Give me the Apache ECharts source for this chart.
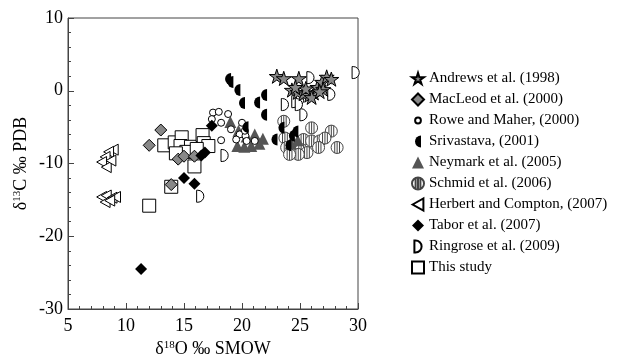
<!DOCTYPE html>
<html>
<head>
<meta charset="utf-8">
<script src="https://cdn.jsdelivr.net/npm/echarts@6/dist/echarts.min.js"></script>
<style>
  html, body { margin: 0; padding: 0; background: #fff; }
  #chart { width: 631px; height: 364px; }
</style>
</head>
<body>
<div id="chart"></div>
<script>
// δ18O (x) / δ13C (y) pairs
var andrews = [[23.0, 2.0], [23.6, 1.7], [24.9, 1.7], [24.3, 0.1], [24.8, -0.2], [25.3, -0.4],
    [25.8, -0.6], [26.2, -0.3], [26.5, 0.5], [26.9, 1.2], [27.3, 1.9], [27.7, 1.6], [27.0, 0.2],
    [26.0, -0.9], [25.5, 0.3], [24.6, 0.5], [26.7, -0.1]];
var macleod = [[13.0, -5.4], [12.0, -7.5], [14.5, -9.4], [15.0, -9.0], [15.9, -9.0], [13.9, -12.9]];
var rowe = [[17.5, -3.0], [18.0, -2.9], [17.4, -3.9], [18.8, -3.2], [18.2, -4.4], [19.05, -5.3],
    [20.0, -4.4], [19.8, -6.0], [20.3, -6.2], [19.5, -6.7], [20.4, -6.9], [21.1, -6.9], [18.2, -6.8],
    [20.25, -5.5]];
var srivastava = [[18.8, 1.6], [19.0, 1.2], [19.6, 0.1], [20.0, -1.7], [21.3, -1.6], [21.9, -0.6],
    [21.9, -3.3], [22.8, -6.7], [23.4, -5.1], [24.3, -6.2], [24.6, -5.6], [20.3, -5.0], [24.0, -7.5]];
var neymark = [[19.0, -4.3], [19.7, -5.5], [20.4, -6.3], [21.1, -6.0], [21.8, -6.6], [19.6, -7.6],
    [20.2, -7.7], [20.8, -7.6], [21.5, -7.3], [24.2, -7.2], [24.8, -6.8]];
var schmid = [[23.6, -4.2], [26.0, -5.1], [27.7, -5.55], [23.7, -6.5], [25.3, -6.7], [26.0, -6.9],
    [26.7, -6.9], [27.15, -6.5], [24.6, -7.6], [23.85, -7.8], [25.1, -8.1], [25.6, -8.5], [26.6, -7.8],
    [28.2, -7.8], [24.85, -8.75], [24.1, -8.75]];
var herbert = [[8.9, -8.1], [8.5, -8.4], [8.2, -9.1], [7.9, -9.8], [8.3, -10.5], [8.7, -9.6],
    [7.9, -14.6], [8.3, -14.4], [8.8, -14.7], [8.2, -15.3], [9.1, -14.6], [8.6, -15.1]];
var tabor = [[11.3, -24.5], [15.0, -12.0], [15.9, -12.8], [16.5, -8.9], [16.8, -8.5], [17.4, -4.8]];
var ringrose = [[16.4, -14.5], [18.5, -8.9], [23.7, -1.9], [24.6, -1.5], [25.0, -1.3], [25.3, -3.3],
    [25.9, 1.8], [27.7, -0.5], [29.8, 2.5], [24.9, -1.9]];
var thisStudy = [[13.3, -7.5], [14.2, -7.1], [14.8, -6.4], [14.7, -7.6], [15.6, -7.7], [16.6, -6.1],
    [16.7, -7.2], [17.1, -7.6], [15.2, -8.4], [14.3, -8.6], [15.9, -10.4], [13.9, -13.2],
    [12.0, -15.8], [16.1, -8.0]];

var legendNames = ['Andrews et al. (1998)', 'MacLeod et al. (2000)', 'Rowe and Maher, (2000)',
    'Srivastava, (2001)', 'Neymark et al. (2005)', 'Schmid et al. (2006)',
    'Herbert and Compton, (2007)', 'Tabor et al. (2007)', 'Ringrose et al. (2009)', 'This study'];

var STAR = 'path://M50,0 L61,35 L98,35 L68,57 L79,91 L50,70 L21,91 L32,57 L2,35 L39,35 Z';
var HALF = 'path://M5,0 A5,5 0 0,0 5,10 Z';
var DEE = 'path://M0,0 L1,0 A5,5 0 0,1 1,10 L0,10 Z';
var LEFTTRI = 'path://M0,5 L9,0 L9,10 Z';
var STRIPED = 'path://M0,5 A5,5 0 1,1 10,5 A5,5 0 1,1 0,5 Z M3,0.4 L3,9.6 M5,0 L5,10 M7,0.4 L7,9.6';
// small circle padded inside a 10x10 box, for the legend
var SMALLCIRCLE = 'path://M0,0 M10,10 M5,2.6 A2.4,2.4 0 1,1 5,7.4 A2.4,2.4 0 1,1 5,2.6 Z';

var serif = 'Liberation Serif';

function sc(name, data, symbol, size, fill, border) {
    return {
        name: name,
        type: 'scatter',
        data: data,
        symbol: symbol,
        symbolSize: size,
        symbolKeepAspect: true,
        itemStyle: { color: fill, borderColor: border, borderWidth: border ? 1 : 0, opacity: 1 },
        emphasis: { disabled: true }
    };
}

var legendData = legendNames.map(function (n) {
    if (n === 'Rowe and Maher, (2000)') return { name: n, icon: SMALLCIRCLE };
    return { name: n };
});

var axisColor = '#444';

var myChart = echarts.init(document.getElementById('chart'));
var chartOption = {
    animation: false,
    grid: {
        left: 68, right: 273, top: 18, bottom: 55,
        show: true, borderColor: axisColor, borderWidth: 1
    },
    legend: {
        orient: 'vertical',
        left: 406,
        top: 66,
        itemWidth: 12,
        itemHeight: 12,
        itemGap: 6,
        data: legendData,
        textStyle: { fontFamily: serif, fontSize: 15, color: '#000' }
    },
    xAxis: {
        type: 'value',
        min: 5, max: 30, interval: 5,
        name: '{a|δ}{s|18}{a|O ‰ SMOW}',
        nameLocation: 'middle',
        nameGap: 29,
        nameTextStyle: {
            rich: {
                a: { fontFamily: serif, fontSize: 18, color: '#000' },
                s: { fontFamily: serif, fontSize: 11, color: '#000', padding: [0, 0, 7, 0] }
            }
        },
        axisLine: { onZero: false, lineStyle: { color: axisColor } },
        axisTick: { inside: true, length: 6, lineStyle: { color: axisColor } },
        minorTick: { show: true, splitNumber: 5, length: 3, lineStyle: { color: axisColor } },
        splitLine: { show: false },
        axisLabel: { fontFamily: serif, fontSize: 18, color: '#000', margin: 8 }
    },
    yAxis: {
        type: 'value',
        min: -30, max: 10, interval: 10,
        name: '{a|δ}{s|13}{a|C ‰ PDB}',
        nameLocation: 'middle',
        nameGap: 38,
        nameTextStyle: {
            rich: {
                a: { fontFamily: serif, fontSize: 18, color: '#000' },
                s: { fontFamily: serif, fontSize: 11, color: '#000', padding: [0, 0, 7, 0] }
            }
        },
        axisLine: { onZero: false, lineStyle: { color: axisColor } },
        axisTick: { inside: true, length: 6, lineStyle: { color: axisColor } },
        minorTick: { show: true, splitNumber: 5, length: 3, lineStyle: { color: axisColor } },
        splitLine: { show: false },
        axisLabel: { fontFamily: serif, fontSize: 18, color: '#000', margin: 5 }
    },
    series: [
        sc('This study', thisStudy, 'rect', 13, '#fff', '#000'),
        sc('Ringrose et al. (2009)', ringrose, DEE, 12, '#fff', '#000'),
        sc('Schmid et al. (2006)', schmid, STRIPED, 12, '#fff', '#444'),
        sc('Neymark et al. (2005)', neymark, 'triangle', 12, '#555', null),
        sc('Rowe and Maher, (2000)', rowe, 'circle', 7, '#fff', '#000'),
        sc('Srivastava, (2001)', srivastava, HALF, 12, '#000', null),
        sc('MacLeod et al. (2000)', macleod, 'diamond', 12, '#888', '#000'),
        sc('Tabor et al. (2007)', tabor, 'diamond', 12, '#000', null),
        sc('Herbert and Compton, (2007)', herbert, LEFTTRI, 11, '#fff', '#000'),
        sc('Andrews et al. (1998)', andrews, STAR, 15, '#888', '#000')
    ]
};
myChart.setOption(chartOption);
</script>
</body>
</html>
